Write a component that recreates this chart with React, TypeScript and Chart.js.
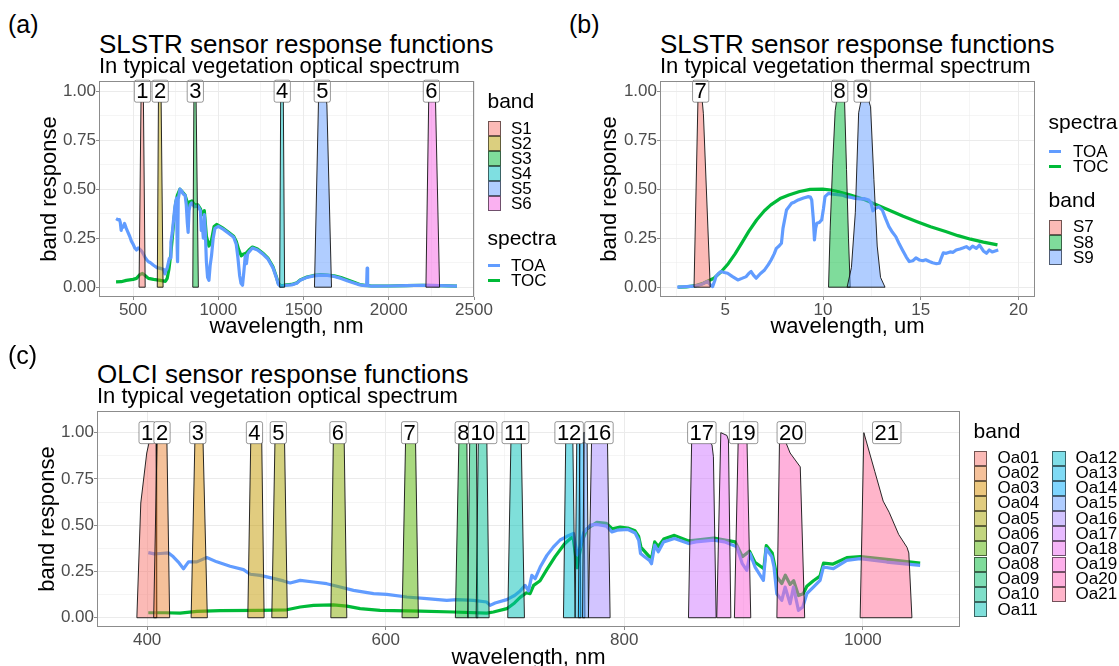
import React, { useEffect, useRef } from "react";
import { Chart, registerables } from "chart.js";

Chart.register(...registerables);

const FONT = "'Liberation Sans', Arial, Helvetica, sans-serif";

// ---------------- Panel (a): SLSTR optical ----------------
const A_BAND_NAMES = ["S1", "S2", "S3", "S4", "S5", "S6"];
const A_LABEL_TEXT = ["1", "2", "3", "4", "5", "6"];
const A_LABEL_X = [555, 659, 865, 1375, 1610, 2250];
const A_S1 = [[535, 0], [547, 1], [560, 1], [571, 0]];
const A_S2 = [[642, 0], [649, 1], [664, 1], [676, 0]];
const A_S3 = [[850, 0], [857, 1], [869, 1], [883, 0]];
const A_S4 = [[1360, 0], [1366, 1], [1381, 1], [1389, 0]];
const A_S5 = [[1564, 0], [1589, 1], [1628, 1], [1637, 0.93], [1664, 0]];
const A_S6 = [[2218, 0], [2235, 1], [2273, 1], [2298, 0]];

const A_TOA_NM = [400, 410, 420, 425, 430, 435, 440, 450, 460, 470, 480, 490, 500, 510, 520, 530, 540, 550, 560, 570, 580, 590, 600, 620, 640, 660, 680, 687, 690, 700, 712, 718, 722, 730, 745, 755, 759, 761, 765, 775, 785, 795, 805, 812, 818, 823, 828, 835, 845, 860, 880, 895, 900, 905, 912, 918, 923, 930, 937, 945, 952, 960, 970, 980, 1000, 1030, 1060, 1090, 1105, 1115, 1125, 1133, 1142, 1150, 1158, 1165, 1172, 1180, 1200, 1230, 1260, 1290, 1320, 1340, 1352, 1365, 1400, 1430, 1460, 1480, 1520, 1560, 1600, 1640, 1680, 1720, 1760, 1800, 1830, 1860, 1870, 1873, 1876, 1900, 2000, 2100, 2200, 2300, 2400];
const A_TOA = [0.35, 0.345, 0.345, 0.33, 0.29, 0.31, 0.305, 0.325, 0.3, 0.28, 0.26, 0.235, 0.22, 0.2, 0.19, 0.2, 0.193, 0.184, 0.17, 0.152, 0.14, 0.13, 0.126, 0.112, 0.1, 0.096, 0.09, 0.068, 0.08, 0.098, 0.145, 0.15, 0.23, 0.28, 0.41, 0.455, 0.2, 0.13, 0.45, 0.5, 0.49, 0.475, 0.47, 0.42, 0.33, 0.28, 0.39, 0.42, 0.43, 0.41, 0.415, 0.39, 0.29, 0.33, 0.25, 0.37, 0.3, 0.13, 0.05, 0.035, 0.11, 0.16, 0.25, 0.3, 0.31, 0.295, 0.275, 0.255, 0.22, 0.15, 0.06, 0.02, 0.01, 0.08, 0.16, 0.12, 0.17, 0.18, 0.2, 0.19, 0.17, 0.145, 0.1, 0.05, 0.015, 0.005, 0.01, 0.012, 0.02, 0.035, 0.05, 0.058, 0.062, 0.06, 0.055, 0.045, 0.032, 0.02, 0.012, 0.008, 0.008, 0.097, 0.008, 0.005, 0.006, 0.008, 0.01, 0.008, 0.005];
const A_TOC_NM = [400, 430, 460, 500, 520, 540, 555, 570, 590, 620, 660, 690, 700, 710, 720, 730, 740, 750, 760, 775, 790, 805, 815, 823, 830, 845, 860, 880, 895, 905, 918, 930, 945, 960, 975, 990, 1030, 1060, 1090, 1105, 1120, 1135, 1150, 1165, 1180, 1200, 1230, 1260, 1290, 1320, 1340, 1352, 1365, 1400, 1430, 1460, 1480, 1520, 1560, 1600, 1640, 1680, 1720, 1760, 1800, 1830, 1860, 1900, 2000, 2100, 2200, 2300, 2400];
const A_TOC = [0.027, 0.028, 0.035, 0.04, 0.045, 0.065, 0.07, 0.06, 0.045, 0.04, 0.035, 0.03, 0.045, 0.09, 0.16, 0.25, 0.35, 0.43, 0.47, 0.5, 0.485, 0.47, 0.44, 0.41, 0.435, 0.44, 0.42, 0.42, 0.4, 0.37, 0.39, 0.26, 0.21, 0.24, 0.31, 0.32, 0.3, 0.28, 0.26, 0.235, 0.19, 0.16, 0.17, 0.175, 0.19, 0.205, 0.195, 0.175, 0.15, 0.105, 0.055, 0.02, 0.006, 0.012, 0.014, 0.022, 0.037, 0.052, 0.06, 0.064, 0.062, 0.058, 0.049, 0.037, 0.024, 0.014, 0.009, 0.006, 0.006, 0.008, 0.01, 0.008, 0.005];

const A_X_MAJOR = [500, 1000, 1500, 2000, 2500];
const A_X_MINOR = [750, 1250, 1750, 2250];

// ---------------- Panel (b): SLSTR thermal ----------------
const B_BAND_NAMES = ["S7", "S8", "S9"];
const B_LABEL_TEXT = ["7", "8", "9"];
const B_LABEL_X = [3.74, 10.85, 12.0];
const B_S7 = [[3.4, 0], [3.61, 1], [3.75, 1], [3.83, 0.94], [3.88, 0.885], [4.23, 0]];
const B_S8 = [[10.28, 0], [10.36, 0.29], [10.49, 0.63], [10.62, 0.9], [10.75, 0.99], [10.95, 1.0], [11.1, 0.95], [11.2, 0.6], [11.3, 0.25], [11.39, 0]];
const B_S9 = [[11.23, 0], [11.45, 0.1], [11.65, 0.38], [11.82, 0.89], [12.0, 0.98], [12.2, 1.0], [12.43, 0.92], [12.6, 0.55], [12.77, 0.21], [12.94, 0.05], [13.17, 0]];

const B_TOA_UM = [2.54, 3.0, 3.4, 3.8, 4.09, 4.25, 4.35, 4.45, 4.52, 4.65, 4.78, 4.95, 5.12, 5.35, 5.64, 5.85, 6.07, 6.2, 6.32, 6.45, 6.58, 6.8, 7.01, 7.2, 7.35, 7.5, 7.61, 7.75, 7.87, 7.95, 8.13, 8.25, 8.39, 8.55, 8.73, 9.0, 9.25, 9.35, 9.42, 9.5, 9.56, 9.62, 9.68, 9.8, 9.93, 10.02, 10.1, 10.28, 10.5, 10.75, 10.97, 11.2, 11.45, 11.65, 11.9, 12.1, 12.34, 12.45, 12.55, 12.69, 12.85, 13.03, 13.2, 13.37, 13.55, 13.72, 13.9, 14.06, 14.25, 14.41, 14.6, 14.75, 14.92, 15.1, 15.25, 15.44, 15.6, 15.8, 15.95, 16.05, 16.15, 16.3, 16.5, 16.65, 16.81, 17.0, 17.15, 17.33, 17.5, 17.65, 17.84, 18.0, 18.2, 18.36, 18.5, 18.65, 18.8, 18.96];
const B_TOA = [0.0, 0.003, 0.005, 0.015, 0.03, 0.01, 0.003, 0.03, 0.054, 0.07, 0.08, 0.075, 0.071, 0.055, 0.037, 0.045, 0.054, 0.07, 0.08, 0.06, 0.046, 0.07, 0.088, 0.115, 0.14, 0.17, 0.198, 0.21, 0.224, 0.3, 0.394, 0.41, 0.428, 0.435, 0.445, 0.455, 0.462, 0.46, 0.445, 0.35, 0.241, 0.3, 0.326, 0.33, 0.343, 0.4, 0.462, 0.479, 0.475, 0.472, 0.47, 0.462, 0.458, 0.453, 0.45, 0.452, 0.445, 0.43, 0.39, 0.402, 0.41, 0.394, 0.35, 0.309, 0.28, 0.258, 0.22, 0.19, 0.155, 0.131, 0.135, 0.15, 0.139, 0.135, 0.14, 0.131, 0.125, 0.12, 0.122, 0.15, 0.175, 0.173, 0.18, 0.178, 0.19, 0.195, 0.2, 0.207, 0.195, 0.21, 0.198, 0.215, 0.185, 0.173, 0.19, 0.18, 0.185, 0.19];
const B_TOC_UM = [2.59, 3.0, 3.5, 3.87, 4.42, 4.8, 5.15, 5.5, 5.87, 6.2, 6.6, 7.0, 7.33, 7.8, 8.25, 8.8, 9.34, 9.98, 10.4, 10.8, 11.4, 12.08, 12.7, 13.36, 14.1, 14.81, 15.5, 16.27, 16.9, 17.55, 18.2, 18.92];
const B_TOC = [0.0, 0.002, 0.008, 0.02, 0.046, 0.08, 0.12, 0.17, 0.23, 0.285, 0.343, 0.39, 0.42, 0.452, 0.47, 0.488, 0.499, 0.5, 0.496, 0.487, 0.47, 0.448, 0.422, 0.394, 0.362, 0.334, 0.308, 0.284, 0.263, 0.245, 0.23, 0.216];

const B_X_MAJOR = [5, 10, 15, 20];
const B_X_MINOR = [2.5, 7.5, 12.5, 17.5];

// ---------------- Panel (c): OLCI ----------------
const C_BAND_NAMES = ["Oa01", "Oa02", "Oa03", "Oa04", "Oa05", "Oa06", "Oa07", "Oa08", "Oa09", "Oa10", "Oa11", "Oa12", "Oa13", "Oa14", "Oa15", "Oa16", "Oa17", "Oa18", "Oa19", "Oa20", "Oa21"];
const C_LABEL_TEXT = ["1", "2", "3", "4", "5", "6", "7", "8", "10", "11", "12", "16", "17", "19", "20", "21"];
const C_LABEL_X = [400, 412.5, 442.5, 490, 510, 560, 620, 665, 681.25, 708.75, 753.75, 778.75, 865, 900, 940, 1020];
const C_OA01 = [[391.4, 0], [394.7, 0.62], [399.7, 0.89], [403.5, 1], [407.5, 1], [408, 0]];
const C_OA02 = [[405.5, 0], [408.5, 1], [416.5, 1], [418.9, 0]];
const C_OA03 = [[436.9, 0], [440.2, 1], [446.7, 1], [450.5, 0]];
const C_OA04 = [[484.4, 0], [487, 1], [496, 1], [498.1, 0]];
const C_OA05 = [[504.5, 0], [507.3, 1], [515.1, 1], [517.6, 0]];
const C_OA06 = [[554, 0], [556.2, 1], [565.1, 1], [567.4, 0]];
const C_OA07 = [[613.7, 0], [616.8, 1], [624.9, 1], [627.4, 0]];
const C_OA08 = [[658.4, 0], [661.5, 1], [668, 1], [669.3, 0]];
const C_OA09 = [[668.7, 0], [670.5, 1], [676, 1], [677.2, 0]];
const C_OA10 = [[675.8, 0], [677.7, 1], [684.7, 1], [686.7, 0]];
const C_OA11 = [[702.3, 0], [705.1, 1], [713.5, 1], [716.3, 0]];
const C_OA12 = [[749, 0], [751, 1], [756.8, 1], [758.8, 0]];
const C_OA13 = [[758.8, 0], [760.2, 1], [762.5, 1], [763.5, 0]];
const C_OA14 = [[761.5, 0], [762.8, 1], [766, 1], [767, 0]];
const C_OA15 = [[765, 0], [766.3, 1], [768.8, 1], [770, 0]];
const C_OA16 = [[769.9, 0], [772.7, 1], [785.8, 1], [788.1, 0]];
const C_OA17 = [[853.8, 0], [856.6, 1], [868, 1], [871, 0.95], [873.5, 0.935], [874.7, 0.87], [877, 0]];
const C_OA18 = [[877.5, 0], [880.9, 1.0], [886, 0.985], [887.3, 0.96], [889.3, 0]];
const C_OA19 = [[892.3, 0], [895.6, 1], [902.7, 1], [906, 0]];
const C_OA20 = [[927.9, 0], [930.2, 1], [934, 0.97], [939, 0.89], [947.5, 0.815], [951.2, 0]];
const C_OA21 = [[997.7, 0], [1000.8, 1.0], [1010, 0.79], [1017, 0.63], [1022, 0.57], [1030, 0.45], [1037, 0.38], [1038.5, 0.35], [1041.1, 0]];

const C_TOA_NM = [401, 406, 411, 418, 422, 426, 430.5, 434.7, 441.7, 450, 458.4, 469.6, 480.8, 486.4, 494.8, 503.1, 514.3, 519.9, 528.3, 539.5, 550.6, 561.8, 573, 589.8, 600.9, 617.7, 634.4, 651.2, 659.6, 673.6, 684.7, 687.5, 691.7, 701.5, 708, 712.7, 716.9, 719.7, 722.5, 725.3, 729.5, 735.1, 740.6, 746.2, 752, 757.4, 760.5, 763, 766, 771.6, 777, 785.1, 789.6, 794.1, 803.1, 809.1, 812.1, 813.6, 817, 821.1, 822.8, 825.5, 828.5, 833, 842, 854, 860, 874.9, 884, 894.3, 898.9, 902.7, 905.4, 909.6, 916.6, 918.9, 923.6, 925.5, 927.8, 932, 934.8, 939, 941.8, 946, 949.6, 953, 958.5, 964.1, 966.9, 975.3, 986.5, 997.6, 1020, 1048];
const C_TOA = [0.352, 0.345, 0.347, 0.35, 0.329, 0.302, 0.265, 0.302, 0.302, 0.325, 0.302, 0.278, 0.26, 0.235, 0.229, 0.217, 0.199, 0.188, 0.202, 0.193, 0.184, 0.166, 0.148, 0.13, 0.126, 0.112, 0.103, 0.094, 0.098, 0.094, 0.085, 0.067, 0.08, 0.098, 0.12, 0.145, 0.175, 0.145, 0.229, 0.211, 0.274, 0.337, 0.383, 0.42, 0.44, 0.455, 0.34, 0.38, 0.46, 0.5, 0.504, 0.495, 0.464, 0.473, 0.477, 0.458, 0.419, 0.347, 0.33, 0.31, 0.292, 0.392, 0.356, 0.41, 0.428, 0.401, 0.41, 0.419, 0.41, 0.383, 0.292, 0.256, 0.347, 0.274, 0.202, 0.374, 0.33, 0.274, 0.13, 0.094, 0.166, 0.076, 0.166, 0.04, 0.058, 0.13, 0.166, 0.202, 0.274, 0.265, 0.31, 0.319, 0.301, 0.283];
const C_TOC_NM = [401, 415, 427.7, 441.7, 461.2, 494.8, 517.1, 528.3, 539.5, 556.2, 567.4, 578.6, 595.3, 628.9, 656.8, 684.7, 690.3, 701.5, 708, 712.7, 718, 721, 724, 729.4, 735, 742, 750, 757, 760.5, 764, 768.6, 777, 785, 790, 796.5, 803, 809, 812, 814, 821, 823, 825.5, 828.5, 833, 842, 854, 860, 875, 893, 899, 905, 909.5, 917, 919, 924, 928, 932, 935, 939, 942, 946, 950, 953, 958.5, 964, 967, 975, 986.5, 998, 1020, 1048];
const C_TOC = [0.027, 0.027, 0.025, 0.034, 0.038, 0.04, 0.043, 0.058, 0.067, 0.07, 0.063, 0.049, 0.04, 0.036, 0.031, 0.025, 0.031, 0.049, 0.08, 0.11, 0.135, 0.13, 0.175, 0.2, 0.26, 0.33, 0.4, 0.44, 0.27, 0.4, 0.48, 0.515, 0.51, 0.48, 0.49, 0.485, 0.47, 0.44, 0.38, 0.33, 0.325, 0.41, 0.385, 0.425, 0.445, 0.415, 0.42, 0.43, 0.41, 0.33, 0.36, 0.3, 0.265, 0.39, 0.35, 0.22, 0.185, 0.23, 0.18, 0.2, 0.12, 0.13, 0.17, 0.2, 0.225, 0.295, 0.29, 0.325, 0.33, 0.315, 0.295];

const C_X_MAJOR = [400, 600, 800, 1000];
const C_X_MINOR = [500, 700, 900];

const Y_MAJOR = [0, 0.25, 0.5, 0.75, 1];
const Y_MINOR = [0.125, 0.375, 0.625, 0.875];

const SPECTRA_NAMES = ["TOA", "TOC"];
const TOA_COLOR = "#619CFF";
const TOC_COLOR = "#00BA38";

// ---------------- colour helpers (ggplot hue palette) ----------------
function hclRgb(h: number, c = 100, l = 65): number[] {
  const hr = (h * Math.PI) / 180;
  const U = c * Math.cos(hr);
  const V = c * Math.sin(hr);
  const Y = l > 8 ? Math.pow((l + 16) / 116, 3) : l / 903.3;
  const un = 0.19784;
  const vn = 0.46834;
  const u = U / (13 * l) + un;
  const v = V / (13 * l) + vn;
  const X = (9 * Y * u) / (4 * v);
  const Z = (3 * Y) / v - X / 3 - 5 * Y;
  const lin = [
    3.240479 * X - 1.53715 * Y - 0.498535 * Z,
    -0.969256 * X + 1.875992 * Y + 0.041556 * Z,
    0.055648 * X - 0.204043 * Y + 1.057311 * Z,
  ];
  return lin.map((t) => {
    const g = t <= 0.0031308 ? 12.92 * t : 1.055 * Math.pow(t, 1 / 2.4) - 0.055;
    return Math.round(255 * Math.min(1, Math.max(0, g)));
  });
}
function huePal(n: number, alpha = 0.5): string[] {
  return Array.from({ length: n }, (_, i) => {
    const [r, g, b] = hclRgb(15 + (360 * i) / n);
    return `rgba(${r},${g},${b},${alpha})`;
  });
}

const A_COLORS = huePal(6);
const B_COLORS = huePal(3);
const C_COLORS = huePal(21);

// ---------------- chart building ----------------
interface LineSpec { x: number[]; y: number[]; color: string; }
interface Spec {
  xMin: number; xMax: number; yMin: number; yMax: number;
  xMajor: number[]; xMinor: number[];
  xTitle: string;
  bands: number[][][]; bandColors: string[];
  lines: LineSpec[];
  labelX: number[]; labelText: string[];
  yScaleWidth: number; xScaleHeight: number;
  padding: { left: number; right: number; top: number; bottom: number };
  yTitlePad: number; xTitlePad: number;
}

const near = (list: number[], v: number) => list.some((m) => Math.abs(m - v) < 1e-9);
const AXIS_GREY = "#8c8c8c";

function labelPlugin(xs: number[], texts: string[]) {
  return {
    id: "bandLabels",
    afterDatasetsDraw(chart: any) {
      const { ctx } = chart;
      const x = chart.scales.x;
      const y = chart.scales.y;
      ctx.save();
      ctx.font = `22px ${FONT}`;
      ctx.textAlign = "center";
      ctx.textBaseline = "middle";
      xs.forEach((v, i) => {
        const px = x.getPixelForValue(v);
        const py = y.getPixelForValue(1);
        const w = ctx.measureText(texts[i]).width + 4;
        const h = 22;
        const l = px - w / 2;
        const t = py - h / 2;
        const r = 2;
        ctx.beginPath();
        ctx.moveTo(l + r, t);
        ctx.lineTo(l + w - r, t);
        ctx.quadraticCurveTo(l + w, t, l + w, t + r);
        ctx.lineTo(l + w, t + h - r);
        ctx.quadraticCurveTo(l + w, t + h, l + w - r, t + h);
        ctx.lineTo(l + r, t + h);
        ctx.quadraticCurveTo(l, t + h, l, t + h - r);
        ctx.lineTo(l, t + r);
        ctx.quadraticCurveTo(l, t, l + r, t);
        ctx.closePath();
        ctx.fillStyle = "#ffffff";
        ctx.fill();
        ctx.strokeStyle = "rgba(0,0,0,0.4)";
        ctx.lineWidth = 1;
        ctx.stroke();
        ctx.fillStyle = "#000000";
        ctx.fillText(texts[i], px, py + 1);
      });
      ctx.restore();
    },
  };
}

const framePlugin = {
  id: "panelFrame",
  afterDraw(chart: any) {
    const { ctx, chartArea: a } = chart;
    ctx.save();
    ctx.strokeStyle = AXIS_GREY;
    ctx.lineWidth = 1;
    ctx.strokeRect(Math.round(a.left) + 0.5, Math.round(a.top) + 0.5, Math.round(a.right - a.left) - 1, Math.round(a.bottom - a.top) - 1);
    ctx.restore();
  },
};

function makeConfig(s: Spec): any {
  const ticksX = [...s.xMajor, ...s.xMinor].sort((a, b) => a - b);
  const ticksY = [...Y_MAJOR, ...Y_MINOR].sort((a, b) => a - b);
  const datasets: any[] = [];
  s.lines.forEach((ln, i) => {
    datasets.push({
      type: "line",
      data: ln.x.map((x, k) => ({ x, y: ln.y[k] })),
      borderColor: ln.color,
      borderWidth: 3.2,
      borderJoinStyle: "round",
      pointRadius: 0,
      fill: false,
      tension: 0,
      order: 1000 + i,
    });
  });
  s.bands.forEach((b, i) => {
    datasets.push({
      type: "line",
      data: b.map((p) => ({ x: p[0], y: p[1] })),
      borderColor: "#111111",
      borderWidth: 0.9,
      backgroundColor: s.bandColors[i],
      pointRadius: 0,
      fill: "origin",
      tension: 0,
      order: 500 - i,
    });
  });
  const base: any[] = [];
  s.bands.forEach((b) => {
    base.push({ x: b[0][0], y: 0 }, { x: b[b.length - 1][0], y: 0 }, { x: b[b.length - 1][0], y: null });
  });
  datasets.push({
    type: "line",
    data: base,
    borderColor: "#111111",
    borderWidth: 0.9,
    pointRadius: 0,
    fill: false,
    spanGaps: false,
    order: 0,
  });

  return {
    type: "line",
    data: { datasets },
    options: {
      animation: false,
      responsive: true,
      maintainAspectRatio: false,
      events: [],
      layout: { padding: s.padding },
      plugins: { legend: { display: false }, tooltip: { enabled: false } },
      scales: {
        x: {
          type: "linear",
          min: s.xMin,
          max: s.xMax,
          afterBuildTicks: (ax: any) => {
            ax.ticks = ticksX.map((v) => ({ value: v }));
          },
          afterFit: (ax: any) => {
            ax.height = s.xScaleHeight;
          },
          ticks: {
            autoSkip: false,
            maxRotation: 0,
            padding: 0,
            color: "#4D4D4D",
            font: { family: FONT, size: 17 },
            callback: (v: number) => (near(s.xMajor, v) ? String(v) : ""),
          },
          grid: {
            color: "#EBEBEB",
            lineWidth: (c: any) => (c.tick && near(s.xMajor, c.tick.value) ? 1 : 0.5),
            tickColor: (c: any) => (c.tick && near(s.xMajor, c.tick.value) ? AXIS_GREY : "rgba(0,0,0,0)"),
            tickLength: 3,
            tickWidth: 1,
          },
          border: { display: false },
          title: {
            display: true,
            text: s.xTitle,
            color: "#000000",
            font: { family: FONT, size: 22 },
            padding: { top: 0, bottom: s.xTitlePad },
          },
        },
        y: {
          type: "linear",
          min: s.yMin,
          max: s.yMax,
          afterBuildTicks: (ax: any) => {
            ax.ticks = ticksY.map((v) => ({ value: v }));
          },
          afterFit: (ax: any) => {
            ax.width = s.yScaleWidth;
          },
          ticks: {
            autoSkip: false,
            padding: 0,
            color: "#4D4D4D",
            font: { family: FONT, size: 17 },
            callback: (v: number) => (near(Y_MAJOR, v) ? v.toFixed(2) : ""),
          },
          grid: {
            color: "#EBEBEB",
            lineWidth: (c: any) => (c.tick && near(Y_MAJOR, c.tick.value) ? 1 : 0.5),
            tickColor: (c: any) => (c.tick && near(Y_MAJOR, c.tick.value) ? AXIS_GREY : "rgba(0,0,0,0)"),
            tickLength: 3,
            tickWidth: 1,
          },
          border: { display: false },
          title: {
            display: true,
            text: "band response",
            color: "#000000",
            font: { family: FONT, size: 22 },
            padding: { top: s.yTitlePad, bottom: 0 },
          },
        },
      },
    },
    plugins: [labelPlugin(s.labelX, s.labelText), framePlugin],
  };
}

const SPEC_A: Spec = {
  xMin: 300, xMax: 2500, yMin: -0.05, yMax: 1.052,
  xMajor: A_X_MAJOR, xMinor: A_X_MINOR,
  xTitle: "wavelength, nm",
  bands: [A_S1, A_S2, A_S3, A_S4, A_S5, A_S6], bandColors: A_COLORS,
  lines: [{ x: A_TOA_NM, y: A_TOA, color: TOA_COLOR }, { x: A_TOC_NM, y: A_TOC, color: TOC_COLOR }],
  labelX: A_LABEL_X, labelText: A_LABEL_TEXT,
  yScaleWidth: 99, xScaleHeight: 48,
  padding: { left: 0, right: 22, top: 12, bottom: 0 },
  yTitlePad: 36.8, xTitlePad: 4.8,
};
const SPEC_B: Spec = {
  xMin: 1.66, xMax: 20.84, yMin: -0.05, yMax: 1.052,
  xMajor: B_X_MAJOR, xMinor: B_X_MINOR,
  xTitle: "wavelength, um",
  bands: [B_S7, B_S8, B_S9], bandColors: B_COLORS,
  lines: [{ x: B_TOA_UM, y: B_TOA, color: TOA_COLOR }, { x: B_TOC_UM, y: B_TOC, color: TOC_COLOR }],
  labelX: B_LABEL_X, labelText: B_LABEL_TEXT,
  yScaleWidth: 100, xScaleHeight: 48,
  padding: { left: 0, right: 25, top: 12, bottom: 0 },
  yTitlePad: 36.8, xTitlePad: 4.8,
};
const SPEC_C: Spec = {
  xMin: 358, xMax: 1081.4, yMin: -0.05, yMax: 1.117,
  xMajor: C_X_MAJOR, xMinor: C_X_MINOR,
  xTitle: "wavelength, nm",
  bands: [C_OA01, C_OA02, C_OA03, C_OA04, C_OA05, C_OA06, C_OA07, C_OA08, C_OA09, C_OA10, C_OA11, C_OA12, C_OA13, C_OA14, C_OA15, C_OA16, C_OA17, C_OA18, C_OA19, C_OA20, C_OA21],
  bandColors: C_COLORS,
  lines: [{ x: C_TOA_NM, y: C_TOA, color: TOA_COLOR }, { x: C_TOC_NM, y: C_TOC, color: TOC_COLOR }],
  labelX: C_LABEL_X, labelText: C_LABEL_TEXT,
  yScaleWidth: 97, xScaleHeight: 53,
  padding: { left: 0, right: 20, top: 12, bottom: 0 },
  yTitlePad: 34.8, xTitlePad: 8.8,
};

function ChartBox(props: { spec: Spec; left: number; top: number; width: number; height: number }) {
  const ref = useRef<HTMLCanvasElement>(null);
  useEffect(() => {
    const chart = new Chart(ref.current as HTMLCanvasElement, makeConfig(props.spec));
    return () => chart.destroy();
  }, []);
  return (
    <div style={{ position: "absolute", left: props.left, top: props.top, width: props.width, height: props.height }}>
      <canvas ref={ref} />
    </div>
  );
}

function Txt(props: { x: number; base: number; size: number; children: any }) {
  return (
    <div
      style={{
        position: "absolute",
        left: props.x,
        top: props.base - 0.8465 * props.size,
        fontSize: props.size,
        lineHeight: `${props.size}px`,
        whiteSpace: "nowrap",
        color: "#000",
      }}
    >
      {props.children}
    </div>
  );
}

function KeyBox(props: { x: number; top: number; color: string }) {
  return (
    <div
      style={{
        position: "absolute",
        left: props.x,
        top: props.top + 0.5,
        width: 11.5,
        height: 13,
        background: props.color,
        border: "1px solid rgba(0,0,0,0.55)",
      }}
    />
  );
}

function KeyLine(props: { x: number; center: number; color: string }) {
  return (
    <div style={{ position: "absolute", left: props.x, top: props.center - 1.5, width: 12.5, height: 3, background: props.color }} />
  );
}

function RowLabel(props: { x: number; top: number; text: string }) {
  return (
    <div style={{ position: "absolute", left: props.x, top: props.top, height: 15, lineHeight: "15px", fontSize: 17, whiteSpace: "nowrap" }}>
      {props.text}
    </div>
  );
}

export default function App() {
  const rowH = 15;
  const cRow = 15.15;
  return (
    <div
      style={{
        position: "fixed",
        left: 0,
        top: 0,
        width: 1119,
        height: 666,
        overflow: "hidden",
        background: "#ffffff",
        fontFamily: FONT,
      }}
    >
      <ChartBox spec={SPEC_A} left={0} top={69} width={496} height={276} />
      <ChartBox spec={SPEC_B} left={560} top={69} width={500} height={276} />
      <ChartBox spec={SPEC_C} left={0} top={399} width={980} height={281} />

      {/* panel (a) texts */}
      <Txt x={8} base={33} size={25}>(a)</Txt>
      <Txt x={99} base={53.5} size={26}>SLSTR sensor response functions</Txt>
      <Txt x={99} base={74} size={22}>In typical vegetation optical spectrum</Txt>
      <Txt x={487.5} base={108} size={21}>band</Txt>
      {A_BAND_NAMES.map((n, i) => (
        <React.Fragment key={n}>
          <KeyBox x={487.5} top={120.7 + rowH * i} color={A_COLORS[i]} />
          <RowLabel x={511} top={120.7 + rowH * i} text={n} />
        </React.Fragment>
      ))}
      <Txt x={487.5} base={245} size={21}>spectra</Txt>
      {SPECTRA_NAMES.map((n, i) => (
        <React.Fragment key={n}>
          <KeyLine x={487.5} center={265 + rowH * i} color={i === 0 ? TOA_COLOR : TOC_COLOR} />
          <RowLabel x={511} top={257.5 + rowH * i} text={n} />
        </React.Fragment>
      ))}

      {/* panel (b) texts */}
      <Txt x={569} base={33} size={25}>(b)</Txt>
      <Txt x={660} base={53.5} size={26}>SLSTR sensor response functions</Txt>
      <Txt x={660} base={74} size={22}>In typical vegetation thermal spectrum</Txt>
      <Txt x={1048.6} base={128.3} size={21}>spectra</Txt>
      {SPECTRA_NAMES.map((n, i) => (
        <React.Fragment key={n}>
          <KeyLine x={1048.6} center={151.5 + 14.5 * i} color={i === 0 ? TOA_COLOR : TOC_COLOR} />
          <RowLabel x={1073} top={144 + 14.5 * i} text={n} />
        </React.Fragment>
      ))}
      <Txt x={1048.6} base={206.7} size={21}>band</Txt>
      {B_BAND_NAMES.map((n, i) => (
        <React.Fragment key={n}>
          <KeyBox x={1048.6} top={219.3 + 15.2 * i} color={B_COLORS[i]} />
          <RowLabel x={1073} top={219.3 + 15.2 * i} text={n} />
        </React.Fragment>
      ))}

      {/* panel (c) texts */}
      <Txt x={8} base={364} size={25}>(c)</Txt>
      <Txt x={97} base={383.5} size={26}>OLCI sensor response functions</Txt>
      <Txt x={97} base={404} size={22}>In typical vegetation optical spectrum</Txt>
      <Txt x={973.6} base={438} size={21}>band</Txt>
      {C_BAND_NAMES.map((n, i) => {
        const col = i < 11 ? 0 : 1;
        const row = i < 11 ? i : i - 11;
        const kx = col === 0 ? 973.6 : 1052;
        const lx = col === 0 ? 997.5 : 1075.5;
        const top = 450 + cRow * row;
        return (
          <React.Fragment key={n}>
            <KeyBox x={kx} top={top} color={C_COLORS[i]} />
            <RowLabel x={lx} top={top} text={n} />
          </React.Fragment>
        );
      })}
    </div>
  );
}
